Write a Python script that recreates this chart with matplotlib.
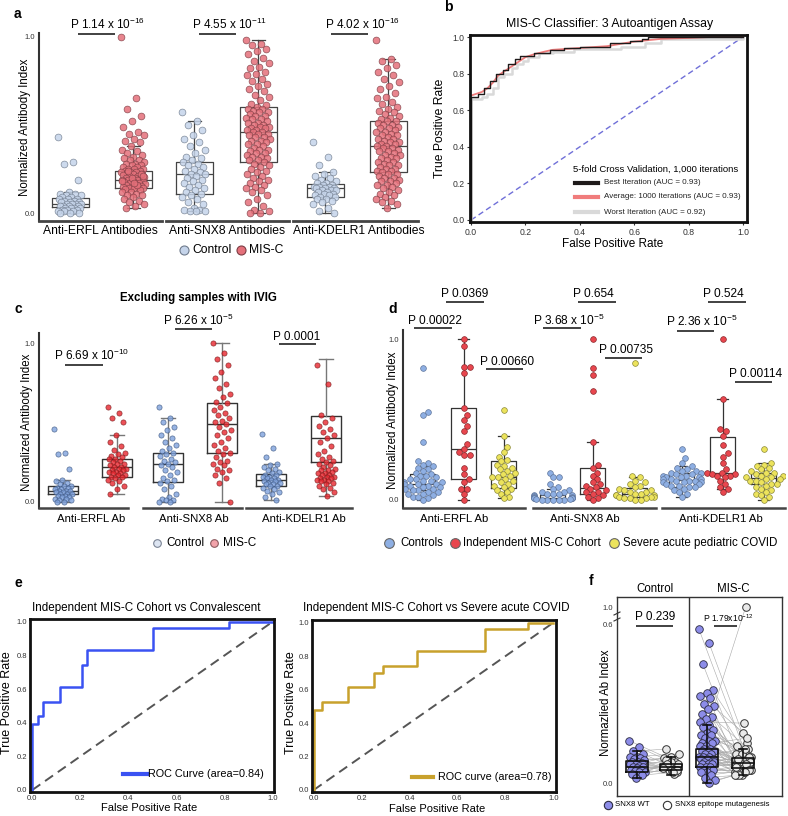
import numpy as np
import matplotlib.pyplot as plt
from matplotlib.lines import Line2D

plt.rcParams['font.family'] = ['Liberation Sans', 'DejaVu Sans']
plt.rcParams['mathtext.fontset'] = 'custom'
plt.rcParams['mathtext.rm'] = 'Liberation Sans'
plt.rcParams['mathtext.default'] = 'regular'

# ---------------- DATA ----------------
# panel a: normalized antibody index, control vs MIS-C
a_erfl_ctrl = [0.43, 0.29, 0.28, 0.19, 0.12, 0.11, 0.11, 0.10, 0.10, 0.09, 0.09, 0.08, 0.08, 0.08, 0.07,
               0.07, 0.06, 0.06, 0.06, 0.05, 0.05, 0.05, 0.05, 0.04, 0.04, 0.04, 0.04, 0.03, 0.03, 0.03,
               0.03, 0.02, 0.02, 0.02, 0.01, 0.01, 0.01, 0.0, 0.0, 0.0]
a_erfl_misc = [1.0, 0.65, 0.59, 0.55, 0.52, 0.49, 0.46, 0.45, 0.44, 0.42, 0.41, 0.40, 0.38, 0.36, 0.35,
               0.34, 0.33, 0.32, 0.31, 0.30, 0.30, 0.29, 0.28, 0.28, 0.27, 0.27, 0.26, 0.26, 0.25, 0.25,
               0.25, 0.24, 0.24, 0.235, 0.23, 0.23, 0.225, 0.22, 0.22, 0.215, 0.21, 0.21, 0.205, 0.20,
               0.20, 0.195, 0.19, 0.19, 0.19, 0.185, 0.18, 0.18, 0.175, 0.17, 0.17, 0.165, 0.16, 0.16,
               0.155, 0.15, 0.15, 0.145, 0.14, 0.14, 0.14, 0.135, 0.13, 0.12, 0.12, 0.11, 0.10, 0.10,
               0.09, 0.08, 0.07, 0.06, 0.05, 0.04, 0.03, 0.22, 0.2, 0.18, 0.16, 0.24, 0.21, 0.17]
a_snx8_ctrl = [0.57, 0.52, 0.50, 0.47, 0.44, 0.42, 0.40, 0.38, 0.36, 0.34, 0.32, 0.31, 0.30, 0.29, 0.28,
               0.27, 0.26, 0.25, 0.24, 0.23, 0.22, 0.22, 0.21, 0.20, 0.19, 0.18, 0.17, 0.16, 0.15, 0.14,
               0.13, 0.12, 0.11, 0.10, 0.09, 0.08, 0.06, 0.05, 0.03, 0.02, 0.02, 0.01, 0.01, 0.01]
a_snx8_misc = [0.98, 0.96, 0.95, 0.93, 0.92, 0.90, 0.88, 0.86, 0.85, 0.83, 0.82, 0.80, 0.79, 0.78, 0.76,
               0.75, 0.73, 0.72, 0.70, 0.69, 0.67, 0.66, 0.64, 0.62, 0.61, 0.60, 0.59, 0.59, 0.58, 0.57,
               0.57, 0.56, 0.55, 0.55, 0.54, 0.53, 0.53, 0.52, 0.51, 0.51, 0.50, 0.50, 0.49, 0.49, 0.48,
               0.48, 0.47, 0.47, 0.46, 0.46, 0.45, 0.45, 0.44, 0.43, 0.43, 0.42, 0.41, 0.41, 0.40, 0.39,
               0.39, 0.38, 0.37, 0.36, 0.36, 0.35, 0.34, 0.34, 0.33, 0.32, 0.32, 0.31, 0.30, 0.30, 0.29,
               0.28, 0.27, 0.26, 0.25, 0.24, 0.23, 0.22, 0.21, 0.20, 0.19, 0.18, 0.17, 0.16, 0.15, 0.14,
               0.13, 0.12, 0.10, 0.08, 0.06, 0.04, 0.02, 0.01, 0.0, 0.0]
a_kdelr1_ctrl = [0.40, 0.32, 0.27, 0.23, 0.22, 0.21, 0.20, 0.19, 0.18, 0.17, 0.17, 0.16, 0.16, 0.15, 0.15,
                 0.15, 0.14, 0.14, 0.14, 0.13, 0.13, 0.13, 0.12, 0.12, 0.11, 0.11, 0.10, 0.10, 0.09, 0.09,
                 0.08, 0.08, 0.07, 0.06, 0.05, 0.03, 0.01, 0.0]
a_kdelr1_misc = [0.98, 0.87, 0.86, 0.84, 0.82, 0.80, 0.78, 0.76, 0.74, 0.72, 0.70, 0.68, 0.66, 0.65, 0.63,
                 0.62, 0.60, 0.59, 0.58, 0.57, 0.56, 0.55, 0.54, 0.53, 0.52, 0.52, 0.51, 0.50, 0.50, 0.49,
                 0.48, 0.48, 0.47, 0.46, 0.46, 0.45, 0.44, 0.44, 0.43, 0.42, 0.42, 0.41, 0.40, 0.40, 0.39,
                 0.39, 0.38, 0.38, 0.37, 0.37, 0.36, 0.35, 0.35, 0.34, 0.33, 0.33, 0.32, 0.31, 0.31, 0.30,
                 0.29, 0.29, 0.28, 0.27, 0.27, 0.26, 0.25, 0.25, 0.24, 0.24, 0.23, 0.22, 0.22, 0.21, 0.20,
                 0.20, 0.19, 0.18, 0.18, 0.17, 0.16, 0.16, 0.15, 0.14, 0.13, 0.12, 0.11, 0.10, 0.09, 0.08,
                 0.07, 0.06, 0.05, 0.03]
a_q1 = [0.034, 0.14, 0.11, 0.29, 0.09, 0.23]
a_med = [0.05, 0.19, 0.22, 0.46, 0.14, 0.38]
a_q3 = [0.085, 0.24, 0.29, 0.60, 0.165, 0.52]
a_lo = [0.0, 0.03, 0.01, 0.0, 0.0, 0.03]
a_hi = [0.12, 0.38, 0.52, 0.98, 0.23, 0.87]
a_pvals = ['P 1.14 x 10$^{-16}$', 'P 4.55 x 10$^{-11}$', 'P 4.02 x 10$^{-16}$']
a_xlabels = ['Anti-ERFL Antibodies', 'Anti-SNX8 Antibodies', 'Anti-KDELR1 Antibodies']

# panel b: ROC curves of the 3 autoantigen classifier
b_best_fpr = [0.0, 0.0, 0.027, 0.049, 0.07, 0.092, 0.116, 0.137, 0.16, 0.18, 0.23, 0.29, 0.34, 0.40, 0.51,
              0.584, 0.627, 0.65, 1.0]
b_best_tpr = [0.0, 0.673, 0.69, 0.72, 0.76, 0.80, 0.82, 0.855, 0.88, 0.895, 0.91, 0.93, 0.94, 0.945, 0.967,
              0.978, 0.99, 1.0, 1.0]
b_avg_fpr = [0.0, 0.02, 0.04, 0.06, 0.08, 0.10, 0.12, 0.14, 0.16, 0.18, 0.20, 0.23, 0.27, 0.30, 0.40, 0.50,
             0.60, 0.70, 0.80, 0.88, 1.0]
b_avg_tpr = [0.68, 0.69, 0.70, 0.72, 0.75, 0.79, 0.81, 0.83, 0.85, 0.87, 0.89, 0.905, 0.92, 0.93, 0.94,
             0.95, 0.975, 0.99, 0.995, 1.0, 1.0]
b_worst_fpr = [0.0, 0.0, 0.04, 0.06, 0.08, 0.10, 0.12, 0.15, 0.17, 0.19, 0.21, 0.25, 0.30, 0.38, 0.55, 0.64,
               0.70, 1.0]
b_worst_tpr = [0.0, 0.66, 0.67, 0.69, 0.72, 0.78, 0.80, 0.83, 0.85, 0.87, 0.89, 0.91, 0.92, 0.935, 0.945,
               0.965, 0.99, 1.0]
b_labels = ['Best Iteration (AUC = 0.93)', 'Average: 1000 Iterations (AUC = 0.93)', 'Worst Iteration (AUC = 0.92)']

# panel c: excluding samples with IVIG
c_erfl_ctrl = [0.46, 0.31, 0.30, 0.21, 0.14, 0.13, 0.12, 0.11, 0.10, 0.10, 0.09, 0.09, 0.08, 0.08, 0.07,
               0.07, 0.07, 0.06, 0.06, 0.05, 0.05, 0.05, 0.04, 0.04, 0.03, 0.03, 0.02, 0.02, 0.01, 0.01,
               0.0, 0.0]
c_erfl_misc = [0.60, 0.56, 0.53, 0.50, 0.42, 0.38, 0.35, 0.33, 0.31, 0.30, 0.29, 0.28, 0.27, 0.27, 0.26,
               0.25, 0.24, 0.24, 0.23, 0.22, 0.22, 0.21, 0.21, 0.20, 0.20, 0.19, 0.19, 0.18, 0.18, 0.17,
               0.17, 0.16, 0.16, 0.15, 0.14, 0.13, 0.12, 0.10, 0.08, 0.05]
c_snx8_ctrl = [0.60, 0.53, 0.50, 0.47, 0.45, 0.42, 0.40, 0.38, 0.36, 0.34, 0.32, 0.31, 0.30, 0.29, 0.27,
               0.26, 0.25, 0.24, 0.23, 0.22, 0.20, 0.19, 0.17, 0.15, 0.14, 0.13, 0.12, 0.10, 0.08, 0.05,
               0.03, 0.02, 0.01, 0.01, 0.0, 0.0]
c_snx8_misc = [1.0, 0.94, 0.90, 0.86, 0.82, 0.78, 0.74, 0.72, 0.68, 0.66, 0.63, 0.62, 0.60, 0.58, 0.56,
               0.55, 0.53, 0.51, 0.50, 0.49, 0.47, 0.45, 0.44, 0.42, 0.40, 0.38, 0.36, 0.34, 0.32, 0.31,
               0.30, 0.28, 0.26, 0.25, 0.24, 0.23, 0.21, 0.20, 0.19, 0.17, 0.15, 0.12, 0.0]
c_kdelr1_ctrl = [0.43, 0.34, 0.28, 0.24, 0.23, 0.22, 0.21, 0.20, 0.19, 0.18, 0.17, 0.17, 0.16, 0.16, 0.15,
                 0.15, 0.14, 0.14, 0.13, 0.13, 0.12, 0.12, 0.11, 0.11, 0.10, 0.10, 0.09, 0.08, 0.07, 0.06,
                 0.05, 0.03, 0.01]
c_kdelr1_misc = [0.86, 0.74, 0.55, 0.53, 0.50, 0.48, 0.46, 0.44, 0.42, 0.40, 0.38, 0.35, 0.32, 0.30, 0.28,
                 0.27, 0.26, 0.25, 0.24, 0.23, 0.22, 0.21, 0.20, 0.20, 0.19, 0.18, 0.18, 0.17, 0.17, 0.16,
                 0.16, 0.15, 0.15, 0.14, 0.14, 0.13, 0.13, 0.12, 0.11, 0.10, 0.09, 0.08, 0.06, 0.04]
c_q1 = [0.05, 0.16, 0.125, 0.31, 0.10, 0.25]
c_med = [0.07, 0.22, 0.24, 0.49, 0.14, 0.40]
c_q3 = [0.10, 0.27, 0.31, 0.62, 0.175, 0.54]
c_lo = [0.0, 0.05, 0.0, 0.0, 0.01, 0.04]
c_hi = [0.14, 0.42, 0.53, 1.0, 0.24, 0.90]
c_pvals = ['P 6.69 x 10$^{-10}$', 'P 6.26 x 10$^{-5}$', 'P 0.0001']
c_xlabels = ['Anti-ERFL Ab', 'Anti-SNX8 Ab', 'Anti-KDELR1 Ab']

# panel d: controls / independent MIS-C cohort / severe acute pediatric COVID
d_erfl_ctrl = [0.82, 0.55, 0.53, 0.36, 0.24, 0.23, 0.22, 0.21, 0.20, 0.19, 0.18, 0.17, 0.16, 0.15, 0.15,
               0.14, 0.13, 0.13, 0.12, 0.12, 0.11, 0.11, 0.10, 0.10, 0.10, 0.09, 0.09, 0.08, 0.08, 0.07,
               0.07, 0.06, 0.06, 0.05, 0.05, 0.04, 0.04, 0.03, 0.02, 0.02, 0.01, 0.0]
d_erfl_misc = [1.0, 0.96, 0.83, 0.83, 0.79, 0.57, 0.53, 0.50, 0.46, 0.43, 0.35, 0.32, 0.30, 0.28, 0.28,
               0.20, 0.16, 0.13, 0.11, 0.07, 0.07, 0.04, 0.0]
d_erfl_covid = [0.56, 0.40, 0.33, 0.30, 0.27, 0.25, 0.24, 0.22, 0.21, 0.20, 0.19, 0.18, 0.17, 0.16, 0.15,
                0.14, 0.14, 0.13, 0.12, 0.11, 0.10, 0.09, 0.08, 0.07, 0.06, 0.05, 0.04, 0.02, 0.01]
d_snx8_ctrl = [0.17, 0.14, 0.14, 0.10, 0.08, 0.07, 0.06, 0.05, 0.05, 0.04, 0.04, 0.035, 0.03, 0.03, 0.025,
               0.02, 0.02, 0.015, 0.015, 0.01, 0.01, 0.01, 0.005, 0.005, 0.0, 0.0, 0.0, 0.0, 0.0]
d_snx8_misc = [1.0, 0.82, 0.78, 0.68, 0.36, 0.22, 0.20, 0.17, 0.15, 0.13, 0.11, 0.10, 0.09, 0.08, 0.07,
               0.06, 0.05, 0.05, 0.04, 0.03, 0.02, 0.01, 0.0]
d_snx8_covid = [0.85, 0.15, 0.14, 0.12, 0.11, 0.10, 0.09, 0.08, 0.07, 0.06, 0.06, 0.05, 0.05, 0.04, 0.04,
                0.03, 0.03, 0.03, 0.02, 0.02, 0.02, 0.01, 0.01, 0.01, 0.0, 0.0]
d_kdelr1_ctrl = [0.32, 0.26, 0.23, 0.21, 0.20, 0.19, 0.18, 0.18, 0.17, 0.17, 0.16, 0.16, 0.15, 0.15, 0.14,
                 0.14, 0.14, 0.13, 0.13, 0.13, 0.12, 0.12, 0.12, 0.11, 0.11, 0.11, 0.10, 0.10, 0.09, 0.09,
                 0.08, 0.08, 0.07, 0.06, 0.05, 0.04, 0.02]
d_kdelr1_misc = [1.0, 0.63, 0.44, 0.43, 0.40, 0.34, 0.29, 0.27, 0.23, 0.19, 0.17, 0.17, 0.16, 0.16, 0.15,
                 0.15, 0.14, 0.12, 0.10, 0.08, 0.07, 0.05]
d_kdelr1_covid = [0.32, 0.23, 0.22, 0.21, 0.20, 0.19, 0.18, 0.17, 0.17, 0.16, 0.15, 0.15, 0.14, 0.14, 0.13,
                  0.13, 0.12, 0.12, 0.11, 0.10, 0.10, 0.09, 0.08, 0.07, 0.06, 0.05, 0.04, 0.03, 0.02, 0.0]
d_q1 = [0.06, 0.13, 0.075, 0.005, 0.04, 0.02, 0.083, 0.155, 0.10]
d_med = [0.10, 0.32, 0.14, 0.015, 0.077, 0.035, 0.125, 0.17, 0.135]
d_q3 = [0.16, 0.57, 0.245, 0.03, 0.20, 0.077, 0.17, 0.39, 0.17]
d_lo = [0.0, 0.0, 0.01, 0.0, 0.0, 0.0, 0.02, 0.068, 0.0]
d_hi = [0.21, 1.0, 0.40, 0.07, 0.36, 0.145, 0.21, 0.63, 0.23]
d_pvals = ['P 0.00022', 'P 0.0369', 'P 0.00660', 'P 3.68 x 10$^{-5}$', 'P 0.654', 'P 0.00735',
           'P 2.36 x 10$^{-5}$', 'P 0.524', 'P 0.00114']
d_legend = ['Controls', 'Independent MIS-C Cohort', 'Severe acute pediatric COVID']

# panel e: ROC of independent cohort
e_conv_fpr = [0.0, 0.0, 0.022, 0.046, 0.115, 0.205, 0.229, 0.50, 0.817, 1.0]
e_conv_tpr = [0.0, 0.392, 0.44, 0.525, 0.614, 0.743, 0.832, 0.96, 1.0, 1.0]
e_sev_fpr = [0.0, 0.0, 0.036, 0.145, 0.253, 0.288, 0.43, 0.715, 0.896, 1.0]
e_sev_tpr = [0.0, 0.48, 0.525, 0.614, 0.70, 0.743, 0.832, 0.96, 1.0, 1.0]

# panel f: paired SNX8 WT vs epitope mutagenesis
f_ctrl_wt = [0.16, 0.135, 0.12, 0.11, 0.10, 0.10, 0.095, 0.09, 0.085, 0.08, 0.08, 0.075, 0.07, 0.07, 0.065,
             0.06, 0.06, 0.055, 0.05, 0.05, 0.045, 0.04, 0.04, 0.035, 0.03, 0.02]
f_ctrl_mut = [0.09, 0.07, 0.128, 0.06, 0.11, 0.05, 0.08, 0.065, 0.10, 0.04, 0.075, 0.055, 0.095, 0.06, 0.05,
              0.085, 0.045, 0.07, 0.065, 0.035, 0.06, 0.08, 0.05, 0.07, 0.04, 0.055]
f_misc_wt = [0.58, 0.53, 0.45, 0.35, 0.34, 0.33, 0.32, 0.30, 0.29, 0.28, 0.26, 0.25, 0.24, 0.23, 0.22,
             0.21, 0.20, 0.19, 0.18, 0.18, 0.17, 0.16, 0.16, 0.15, 0.15, 0.14, 0.14, 0.13, 0.13, 0.12,
             0.12, 0.12, 0.11, 0.11, 0.10, 0.10, 0.10, 0.09, 0.09, 0.09, 0.08, 0.08, 0.08, 0.07, 0.07,
             0.07, 0.06, 0.06, 0.06, 0.05, 0.05, 0.04, 0.04, 0.03, 0.02, 0.01, 0.0]
f_misc_mut = [0.12, 0.10, 0.08, 0.15, 0.06, 0.19, 0.09, 0.05, 1.0, 0.11, 0.07, 0.13, 0.04, 0.226, 0.08,
              0.06, 0.10, 0.14, 0.05, 0.09, 0.07, 0.12, 0.04, 0.08, 0.17, 0.06, 0.10, 0.05, 0.09, 0.07,
              0.03, 0.11, 0.06, 0.08, 0.13, 0.05, 0.07, 0.09, 0.04, 0.06, 0.10, 0.08, 0.05, 0.07, 0.03,
              0.06, 0.09, 0.04, 0.08, 0.05, 0.07, 0.06, 0.04, 0.05, 0.03, 0.04, 0.03]
f_q1 = [0.043, 0.05, 0.062, 0.055]
f_med = [0.06, 0.06, 0.10, 0.075]
f_q3 = [0.083, 0.072, 0.127, 0.093]
f_lo = [0.02, 0.03, 0.0, 0.03]
f_hi = [0.12, 0.10, 0.22, 0.13]

# ---------------- FIGURE ----------------
W, H = 788, 816
fig = plt.figure(figsize=(W / 100, H / 100), dpi=100)


def fx(x):
    return x / W


def fy(y):
    return 1 - y / H


def px_axes(x0, y0, x1, y1):
    ax = fig.add_axes([fx(x0), fy(y1), (x1 - x0) / W, (y1 - y0) / H])
    ax.set_xlim(x0, x1)
    return ax


def ftext(x, y, s, size, **kw):
    kw.setdefault('va', 'center')
    kw.setdefault('ha', 'center')
    fig.text(fx(x), fy(y), s, fontsize=size, **kw)


def fline(xs, ys, **kw):
    fig.add_artist(Line2D([fx(v) for v in xs], [fy(v) for v in ys], transform=fig.transFigure, **kw))


def fmarker(x, y, size, face, edge):
    fig.add_artist(Line2D([fx(x)], [fy(y)], transform=fig.transFigure, marker='o', ls='none',
                          markersize=size, markerfacecolor=face, markeredgecolor=edge, markeredgewidth=0.8))


def pval(text, tx, ty, lx0, lx1, ly, size=8.5):
    ftext(tx, ty, text, size, ha='left')
    fline([lx0, lx1], [ly, ly], color='#333333', lw=1.3, solid_capstyle='butt')


def jitter(n, half):
    return ((np.arange(n) * 0.6180339887) % 1.0 - 0.5) * 2 * half


def swarm(vals, ppu, d, limit):
    ys = np.asarray(vals, float) * ppu
    xs = np.zeros(len(ys))
    placed = []
    for i in np.argsort(ys):
        y = ys[i]
        cands = [0.0]
        for px, py in placed:
            dy = y - py
            if abs(dy) < d:
                dx = np.sqrt(d * d - dy * dy)
                cands += [px + dx, px - dx]
        cands.sort(key=abs)
        for c in cands:
            if all((c - px) ** 2 + (y - py) ** 2 >= d * d - 1e-6 for px, py in placed):
                xs[i] = c
                break
        placed.append((xs[i], y))
    return np.clip(xs, -limit, limit)


def boxes(ax, pos, q1, med, q3, lo, hi, width, capw, color, lw, z, wcolor=None):
    stats = [dict(q1=a, med=m, q3=b, whislo=l, whishi=h, fliers=[])
             for a, m, b, l, h in zip(q1, med, q3, lo, hi)]
    wc = wcolor or color
    ax.bxp(stats, positions=pos, widths=width, capwidths=capw, showfliers=False, manage_ticks=False,
           boxprops=dict(color=color, lw=lw), whiskerprops=dict(color=wc, lw=lw),
           capprops=dict(color=wc, lw=lw), medianprops=dict(color=color, lw=lw), zorder=z)


def strip_style(ax, ylim):
    ax.set_ylim(*ylim)
    for s in ['top', 'right', 'bottom']:
        ax.spines[s].set_visible(False)
    ax.spines['left'].set_color('#333333')
    ax.spines['left'].set_linewidth(1.5)
    ax.set_xticks([])
    ax.set_yticks([0, 1])
    ax.set_yticklabels(['0.0', '1.0'], fontsize=5.5, color='#333333')
    ax.tick_params(axis='y', length=0, pad=3)
    ax.patch.set_alpha(0)


# ---- panel a ----
ax_a = px_axes(39, 33, 418, 221)
strip_style(ax_a, (-0.045, 1.02))
a_groups = [a_erfl_ctrl, a_erfl_misc, a_snx8_ctrl, a_snx8_misc, a_kdelr1_ctrl, a_kdelr1_misc]
a_pos = [70, 133, 194, 258, 325, 388]
a_face = ['#c5d4ea', '#e4707a']
a_edge = ['#6f7b8c', '#7d3d44']
boxes(ax_a, a_pos, a_q1, a_med, a_q3, a_lo, a_hi, 37, 13, '#444444', 0.9, 1)
for i, (vals, p) in enumerate(zip(a_groups, a_pos)):
    v = np.asarray(vals)
    ax_a.scatter(p + jitter(len(v), 12), v, s=24, c=a_face[i % 2], edgecolors=a_edge[i % 2],
                 linewidths=0.5, alpha=0.85, zorder=2)
for x0, x1 in [(39, 162), (166, 289), (293, 418)]:
    fline([x0, x1], [221, 221], color='#444444', lw=2)
for txt, tx, lx in zip(a_pvals, [70, 192, 325], [78, 199, 331]):
    pval(txt, tx, 24, lx, lx + 37, 34)
for txt, cx in zip(a_xlabels, [100, 227, 359]):
    ftext(cx, 231, txt, 8.7)
ftext(25, 127, 'Normalized Antibody Index', 8.3, rotation=90)
fmarker(184, 250, 6.5, a_face[0], '#6f7b8c')
ftext(192, 250, 'Control', 8.7, ha='left')
fmarker(241, 250, 6.5, a_face[1], '#7d3d44')
ftext(249, 250, 'MIS-C', 8.7, ha='left')
ftext(17, 14, 'a', 10, fontweight='bold')

# ---- panel b ----
ax_b = px_axes(470, 35, 747, 222)
ax_b.set_xlim(-0.004, 1.015)
ax_b.set_ylim(-0.011, 1.011)
ax_b.plot([0, 1], [0, 1], ls='--', color='#6f6fd8', lw=1.0, dashes=(4, 2.5))
ax_b.plot(b_worst_fpr, b_worst_tpr, drawstyle='steps-post', color='#d9d9d9', lw=1.8)
ax_b.plot(b_avg_fpr, b_avg_tpr, color='#f07c7c', lw=1.3)
ax_b.plot(b_best_fpr, b_best_tpr, drawstyle='steps-post', color='#1e1a1a', lw=1.0)
for s in ax_b.spines.values():
    s.set_linewidth(2.0)
    s.set_color('#111111')
ax_b.set_xticks([0, 0.2, 0.4, 0.6, 0.8, 1.0])
ax_b.set_yticks([0, 0.2, 0.4, 0.6, 0.8, 1.0])
ax_b.set_xticklabels(['0.0', '0.2', '0.4', '0.6', '0.8', '1.0'])
ax_b.set_yticklabels(['0.0', '0.2', '0.4', '0.6', '0.8', '1.0'])
ax_b.tick_params(labelsize=6.2, length=2, width=0.8, pad=2, colors='#333333')
ftext(610, 24, 'MIS-C Classifier: 3 Autoantigen Assay', 8.8)
ftext(613, 244, 'False Positive Rate', 8.5)
ftext(440, 128, 'True Positive Rate', 8.7, rotation=90)
ftext(573, 169, '5-fold Cross Validation, 1,000 iterations', 6.8, ha='left')
for lbl, col, yy in zip(b_labels, ['#1e1a1a', '#f07c7c', '#d9d9d9'], [183, 197, 212]):
    fline([575, 598], [yy, yy], color=col, lw=3)
    ftext(604, yy, lbl, 5.8, ha='left', color='#222222')
ftext(448, 7, 'b', 10, fontweight='bold')

# ---- panel c ----
ax_c = px_axes(39, 333, 352, 508)
strip_style(ax_c, (-0.038, 1.063))
c_groups = [c_erfl_ctrl, c_erfl_misc, c_snx8_ctrl, c_snx8_misc, c_kdelr1_ctrl, c_kdelr1_misc]
c_pos = [63, 117, 168, 222, 271, 326]
c_face = ['#7fa2dd', '#e8262e']
c_edge = ['#3b5580', '#7a1c1c']
boxes(ax_c, c_pos, c_q1, c_med, c_q3, c_lo, c_hi, 30, 14, '#333333', 1.0, 1, wcolor='#777777')
for i, (vals, p) in enumerate(zip(c_groups, c_pos)):
    v = np.asarray(vals)
    ax_c.scatter(p + jitter(len(v), 9), v, s=14, c=c_face[i % 2], edgecolors=c_edge[i % 2],
                 linewidths=0.5, alpha=0.8, zorder=2)
for x0, x1 in [(39, 128), (143, 242), (246, 352)]:
    fline([x0, x1], [508, 508], color='#444444', lw=1.8)
pval(c_pvals[0], 54, 355, 65, 103, 365)
pval(c_pvals[1], 163, 320, 175, 212, 329)
pval(c_pvals[2], 273, 337, 279, 316, 344)
for txt, cx in zip(c_xlabels, [91, 194, 304]):
    ftext(cx, 519, txt, 8.2)
ftext(27, 422, 'Normalized Antibody Index', 8.3, rotation=90)
ftext(198, 298, 'Excluding samples with IVIG', 8.3, fontweight='bold')
fmarker(157, 543, 5.5, '#dde5f2', '#7a8394')
ftext(166, 543, 'Control', 8.5, ha='left')
fmarker(214, 543, 5.5, '#f2a3aa', '#8a5a5e')
ftext(223, 543, 'MIS-C', 8.5, ha='left')
ftext(18, 309, 'c', 10, fontweight='bold')

# ---- panel d ----
ax_d = px_axes(403, 330, 785, 508)
strip_style(ax_d, (-0.05, 1.058))
d_groups = [d_erfl_ctrl, d_erfl_misc, d_erfl_covid, d_snx8_ctrl, d_snx8_misc, d_snx8_covid,
            d_kdelr1_ctrl, d_kdelr1_misc, d_kdelr1_covid]
d_pos = [423, 464, 504, 553, 593, 635, 682, 723, 764]
d_face = ['#8eafe3', '#e8464e', '#ece35c']
d_edge = ['#61779c', '#8a2a2e', '#8c8a3a']
boxes(ax_d, d_pos, d_q1, d_med, d_q3, d_lo, d_hi, 25, 11, '#333333', 0.9, 1)
for i, (vals, p) in enumerate(zip(d_groups, d_pos)):
    v = np.asarray(vals)
    ax_d.scatter(p + swarm(v, 160.7, 5.6, 19), v, s=17, c=d_face[i % 3], edgecolors=d_edge[i % 3],
                 linewidths=0.5, zorder=2)
for x0, x1 in [(403, 525), (533, 656), (662, 785)]:
    fline([x0, x1], [508, 508], color='#444444', lw=1.8)
d_ann = [(408, 321, 414, 452, 328), (441, 294, 446, 484, 302), (480, 362, 486, 523, 369),
         (533, 320, 543, 581, 328), (573, 294, 578, 616, 302), (599, 350, 605, 642, 358),
         (666, 321, 677, 714, 331), (703, 294, 708, 746, 302), (729, 374, 735, 772, 382)]
for txt, (tx, ty, lx0, lx1, ly) in zip(d_pvals, d_ann):
    pval(txt, tx, ty, lx0, lx1, ly, size=8.6)
for txt, cx in zip(c_xlabels, [454, 585, 721]):
    ftext(cx, 519, txt, 8.2)
ftext(393, 420, 'Normalized Antibody Index', 8.3, rotation=90)
for lbl, mx, tx, fc, ec in zip(d_legend, [389, 455, 614], [400, 463, 623], d_face, d_edge):
    fmarker(mx, 543, 7, fc, '#666666')
    ftext(tx, 543, lbl, 8.3, ha='left')
ftext(393, 309, 'd', 10, fontweight='bold')


# ---- panel e ----
def roc_axes(x0, y0, x1, y1, xlim):
    ax = px_axes(x0, y0, x1, y1)
    ax.set_xlim(*xlim)
    ax.set_ylim(-0.012, 1.016)
    ax.plot([0, 1], [0, 1], ls='--', color='#555555', lw=1.4, dashes=(5, 3))
    for s in ax.spines.values():
        s.set_linewidth(2.0)
        s.set_color('#111111')
    ticks = [0, 0.2, 0.4, 0.6, 0.8, 1.0]
    ax.set_xticks(ticks)
    ax.set_yticks(ticks)
    ax.set_xticklabels(['0.0', '0.2', '0.4', '0.6', '0.8', '1.0'])
    ax.set_yticklabels(['0.0', '0.2', '0.4', '0.6', '0.8', '1.0'])
    ax.tick_params(labelsize=5.5, length=0, pad=2, colors='#333333')
    return ax


ax_e1 = roc_axes(30, 619, 274, 792, (-0.0096, 1.0054))
ax_e1.plot(e_conv_fpr, e_conv_tpr, drawstyle='steps-post', color='#3a52f2', lw=1.8)
ax_e2 = roc_axes(312, 620, 556, 792, (-0.007, 1.011))
ax_e2.plot(e_sev_fpr, e_sev_tpr, drawstyle='steps-post', color='#c8a12c', lw=1.8)
ftext(146, 608, 'Independent MIS-C Cohort vs Convalescent', 8.4)
ftext(436, 608, 'Independent MIS-C Cohort vs Severe acute COVID', 8.4)
ftext(149, 808, 'False Positive Rate', 8.0)
ftext(437, 809, 'False Positive Rate', 8.0)
ftext(7, 703, 'True Positive Rate', 9.0, rotation=90)
ftext(291, 703, 'True Positive Rate', 9.0, rotation=90)
fline([123, 147], [774, 774], color='#3a52f2', lw=3)
ftext(148, 774, 'ROC Curve (area=0.84)', 7.8, ha='left')
fline([412, 433], [777, 777], color='#c8a12c', lw=3)
ftext(438, 777, 'ROC curve (area=0.78)', 7.8, ha='left')
ftext(18, 583, 'e', 10, fontweight='bold')


# ---- panel f ----
def f_fwd(v):
    v = np.asarray(v, float)
    return np.where(v <= 0.6, v, 0.6 + (v - 0.6) * 0.16)


def f_inv(u):
    u = np.asarray(u, float)
    return np.where(u <= 0.6, u, 0.6 + (u - 0.6) / 0.16)


ax_f = px_axes(617, 597, 782, 796)
ax_f.set_yscale('function', functions=(f_fwd, f_inv))
ax_f.set_ylim(-0.049, 1.2375)
f_pos = [637, 671, 707, 743]
f_pairs = [(f_ctrl_wt, f_ctrl_mut, f_pos[0], f_pos[1]), (f_misc_wt, f_misc_mut, f_pos[2], f_pos[3])]
for wt, mut, p0, p1 in f_pairs:
    wt = np.asarray(wt)
    mut = np.asarray(mut)
    x0 = p0 + jitter(len(wt), 8)
    x1 = p1 + jitter(len(mut), 8)[::-1]
    for a, b, c, d in zip(x0, x1, wt, mut):
        ax_f.plot([a, b], [c, d], color='#a8a8a8', lw=0.4, zorder=1)
    ax_f.scatter(x0, wt, s=30, c='#8c8ce8', edgecolors='#2a2a40', linewidths=0.6, zorder=2)
    ax_f.scatter(x1, mut, s=30, c='#e9e9e9', edgecolors='#333333', linewidths=0.7, zorder=2)
boxes(ax_f, f_pos, f_q1, f_med, f_q3, f_lo, f_hi, 22, 8, '#111111', 1.2, 3)
ax_f.axvline(689, color='#333333', lw=1.0)
for s in ax_f.spines.values():
    s.set_linewidth(1.0)
    s.set_color('#333333')
ax_f.set_xticks([])
ax_f.set_yticks([0, 0.6, 1.0])
ax_f.set_yticklabels(['0.0', '0.6', '1.0'], fontsize=5.5, color='#333333')
ax_f.tick_params(axis='y', length=0, pad=3)
fline([614, 620], [615, 612], color='#333333', lw=0.8)
fline([614, 620], [621, 618], color='#333333', lw=0.8)
pval('P 0.239', 635, 617, 636, 673, 626, size=8.5)
pval('P 1.79x10$^{-12}$', 703, 618, 714, 737, 626, size=6.2)
ftext(655, 589, 'Control', 8.3)
ftext(733, 589, 'MIS-C', 8.3)
ftext(606, 703, 'Normazlied Ab Index', 8.3, rotation=90)
fmarker(608, 805, 6, '#8c8ce8', '#2a2a40')
ftext(615, 805, 'SNX8 WT', 5.6, ha='left')
fmarker(667, 805, 6, 'white', '#333333')
ftext(675, 805, 'SNX8 epitope mutagenesis', 5.6, ha='left')
ftext(591, 581, 'f', 10, fontweight='bold')

fig.savefig('out.png', dpi=100)
